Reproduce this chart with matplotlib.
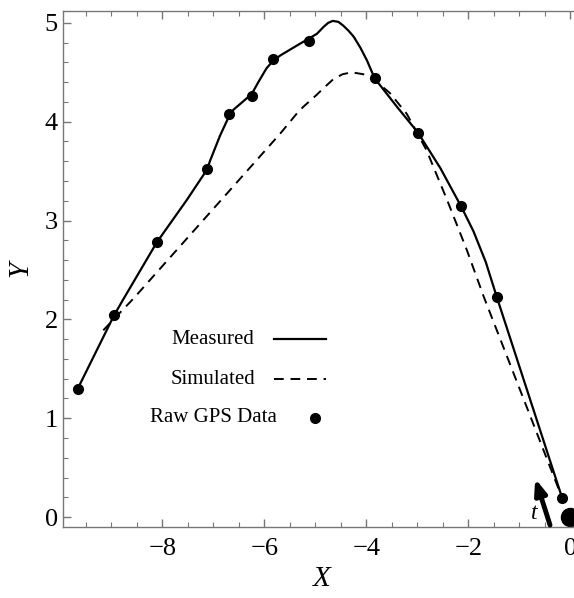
import matplotlib
matplotlib.use("Agg")
import matplotlib.pyplot as plt
from matplotlib.lines import Line2D
from matplotlib.ticker import MultipleLocator

plt.rcParams['font.family'] = ['Liberation Serif', 'DejaVu Serif']

# raw GPS points
gps_x = [-9.66, -8.95, -8.11, -7.12, -6.69, -6.25, -5.84, -5.13, -3.84, -2.99, -2.14, -1.44, -0.16]
gps_y = [1.30, 2.04, 2.78, 3.52, 4.08, 4.26, 4.63, 4.82, 4.44, 3.89, 3.15, 2.23, 0.19]

# measured trajectory (solid)
meas_x = [-9.66, -8.95, -8.76, -8.11, -7.52, -7.12, -7.07, -6.87, -6.69, -6.61, -6.25, -6.12,
          -5.96, -5.84, -5.69, -5.30, -5.13, -4.97, -4.84, -4.75, -4.66, -4.55, -4.45, -4.35,
          -4.25, -4.12, -3.99, -3.84, -3.40, -2.99, -2.55, -2.14, -1.90, -1.66, -1.44, -0.16]
meas_y = [1.30, 2.04, 2.21, 2.78, 3.21, 3.52, 3.60, 3.86, 4.06, 4.12, 4.28, 4.40,
          4.54, 4.61, 4.67, 4.79, 4.84, 4.89, 4.96, 5.00, 5.02, 5.01, 4.97, 4.92,
          4.86, 4.75, 4.62, 4.44, 4.15, 3.89, 3.53, 3.14, 2.89, 2.58, 2.22, 0.19]

# simulated trajectory (dashed)
sim_x = [-9.16, -8.57, -7.50, -6.50, -5.69, -5.37, -5.24, -4.98, -4.84, -4.65, -4.47, -4.29,
         -4.06, -3.84, -3.54, -3.21, -2.82, -2.42, -2.03, -1.70, -0.16]
sim_y = [1.89, 2.21, 2.83, 3.41, 3.88, 4.08, 4.15, 4.27, 4.34, 4.43, 4.48, 4.50,
         4.48, 4.42, 4.29, 4.08, 3.71, 3.21, 2.70, 2.23, 0.19]

start_pt = (0.0, 0.0)
arrow_base = (-0.40, -0.08)
arrow_tip = (-0.69, 0.39)

legend_labels = ['Measured', 'Simulated', 'Raw GPS Data']

fig = plt.figure(figsize=(5.74, 5.98), dpi=100)
W, H = 574, 598
x_left, x_right = -9.94, 0.2
y_bot, y_top = -0.10, 5.12
px_left = 63.5
px_per_x = 51.0
px_right = px_left + (x_right - x_left) * px_per_x
ax = fig.add_axes([px_left / W, (H - 527) / H, (px_right - px_left) / W, (527 - 11) / H])

ax.plot(meas_x, meas_y, color='k', lw=1.6)
ax.plot(sim_x, sim_y, color='k', lw=1.4, ls=(0, (5, 3.5)))
ax.plot(gps_x, gps_y, 'o', color='k', ms=7)
ax.plot(*start_pt, 'o', color='k', ms=13, clip_on=False)

ax.annotate('', xy=arrow_tip, xytext=arrow_base,
            arrowprops=dict(arrowstyle='-|>,head_length=0.9,head_width=0.35',
                            lw=3.5, color='k', shrinkA=0, shrinkB=0))
ax.text(-0.71, 0.04, 't', fontsize=17, style='italic', ha='center', va='center')

ax.set_xlim(x_left, x_right)
ax.set_ylim(y_bot, y_top)
ax.xaxis.set_major_locator(MultipleLocator(2))
ax.xaxis.set_minor_locator(MultipleLocator(0.5))
ax.yaxis.set_major_locator(MultipleLocator(1))
ax.yaxis.set_minor_locator(MultipleLocator(0.2))
ax.xaxis.set_major_formatter(plt.FuncFormatter(lambda v, p: f"{int(round(v))}".replace('-', '\u2212')))

for s in ax.spines.values():
    s.set_color('#777777')
    s.set_linewidth(1.0)
ax.tick_params(which='both', direction='in', top=True, right=False, colors='#777777',
               labelcolor='k', labelsize=19)
ax.tick_params(which='major', length=6, width=1.0)
ax.tick_params(which='minor', length=3.5, width=0.8)
ax.tick_params(axis='x', pad=8)
ax.tick_params(axis='y', pad=4)

ax.set_xlabel('X', fontsize=21, style='italic', labelpad=4)
ax.set_ylabel('Y', fontsize=21, style='italic', labelpad=8)

# legend, laid out by hand (centred labels, keys to the right)
rows_px = [339, 379, 418]
for lab, ypx in zip(legend_labels, rows_px):
    fig.text(213 / W, 1 - ypx / H, lab, fontsize=15, ha='center', va='center')
fig.add_artist(Line2D([274 / W, 326 / W], [1 - rows_px[0] / H] * 2, color='k', lw=1.6))
fig.add_artist(Line2D([274 / W, 326 / W], [1 - rows_px[1] / H] * 2, color='k', lw=1.4,
                      ls=(0, (5, 3.5))))
fig.add_artist(Line2D([315 / W], [1 - rows_px[2] / H], color='k', marker='o', ms=7, ls='none'))

fig.savefig('out.png', dpi=100)
